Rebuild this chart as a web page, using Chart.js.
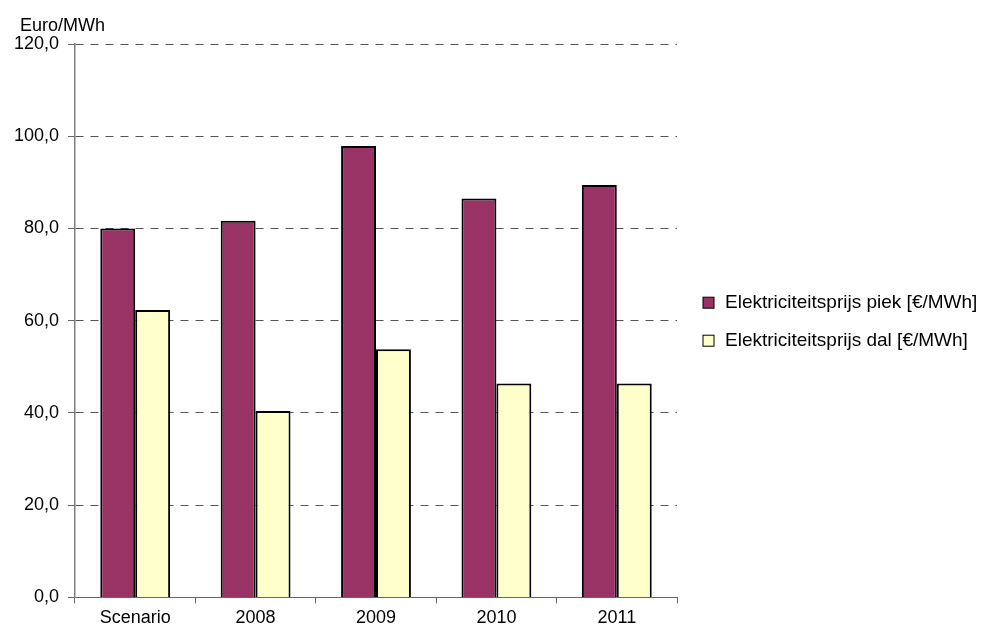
<!DOCTYPE html>
<html>
<head>
<meta charset="utf-8">
<script src="https://cdn.jsdelivr.net/npm/chart.js@4/dist/chart.umd.min.js"></script>
<style>
  html, body { margin: 0; padding: 0; background: #fff; }
  #wrap { width: 987px; height: 635px; }
</style>
</head>
<body>
<div id="wrap"><canvas id="priceChart" width="987" height="635"></canvas></div>
<script>
var categories = ['Scenario', '2008', '2009', '2010', '2011'];
var piekValues = [80.0, 81.7, 97.9, 86.5, 89.4];
var dalValues = [62.3, 40.4, 53.8, 46.4, 46.4];
var seriesNames = ['Elektriciteitsprijs piek [€/MWh]', 'Elektriciteitsprijs dal [€/MWh]'];
var unitLabel = 'Euro/MWh';

var fontFamily = '"Liberation Sans", Arial, sans-serif';

// unit label above the y axis + legend on the right
var extrasPlugin = {
    id: 'extras',
    afterDraw: function(chart) {
        var ctx = chart.ctx;
        var area = chart.chartArea;
        ctx.save();
        ctx.font = '18px ' + fontFamily;
        ctx.fillStyle = '#000';
        ctx.textBaseline = 'middle';
        ctx.textAlign = 'left';
        ctx.fillText(unitLabel, area.left - 55, area.top - 18);

        var items = chart.legend.legendItems;
        var boxX = area.right + 26;
        var midY = (area.top + area.bottom) / 2;
        var rowGap = 38;
        ctx.font = '19px ' + fontFamily;
        items.forEach(function(item, i) {
            var y = midY - rowGap / 2 + i * rowGap + 1;
            ctx.fillStyle = item.fillStyle;
            ctx.fillRect(boxX, y - 5.5, 11, 11);
            ctx.strokeStyle = '#000';
            ctx.lineWidth = 1;
            ctx.strokeRect(boxX, y - 5.5, 11, 11);
            ctx.fillStyle = '#000';
            ctx.fillText(item.text, boxX + 22, y);
        });
        ctx.restore();
    }
};

var config = {
    type: 'bar',
    data: {
        labels: categories,
        datasets: [
            {
                label: seriesNames[0],
                data: piekValues,
                backgroundColor: '#993366',
                borderColor: '#000',
                borderWidth: 2
            },
            {
                label: seriesNames[1],
                data: dalValues,
                backgroundColor: '#FFFFCC',
                borderColor: '#000',
                borderWidth: 2
            }
        ]
    },
    options: {
        responsive: false,
        animation: false,
        datasets: {
            bar: { categoryPercentage: 0.58, barPercentage: 1.0 }
        },
        layout: {
            padding: { top: 44, left: 0, right: 310, bottom: 2 }
        },
        plugins: {
            tooltip: { enabled: false },
            legend: { display: false }
        },
        scales: {
            x: {
                grid: {
                    offset: true,
                    drawOnChartArea: false,
                    drawTicks: true,
                    tickLength: 6,
                    tickColor: '#666'
                },
                border: { color: '#666', width: 1 },
                ticks: {
                    color: '#000',
                    padding: 4,
                    font: { family: fontFamily, size: 18 }
                }
            },
            y: {
                min: 0,
                max: 120,
                afterFit: function(scale) { scale.width = 75; },
                grid: {
                    color: '#555',
                    lineWidth: 1,
                    tickBorderDash: [],
                    tickColor: '#666',
                    tickLength: 7
                },
                border: { color: '#808080', width: 1.5, dash: [8, 7] },
                ticks: {
                    stepSize: 20,
                    color: '#000',
                    padding: 9,
                    font: { family: fontFamily, size: 18 },
                    callback: function(v) { return v.toFixed(1).replace('.', ','); }
                }
            }
        }
    },
    plugins: [extrasPlugin]
};

var priceChart = new Chart(document.getElementById('priceChart').getContext('2d'), config);
</script>
</body>
</html>
